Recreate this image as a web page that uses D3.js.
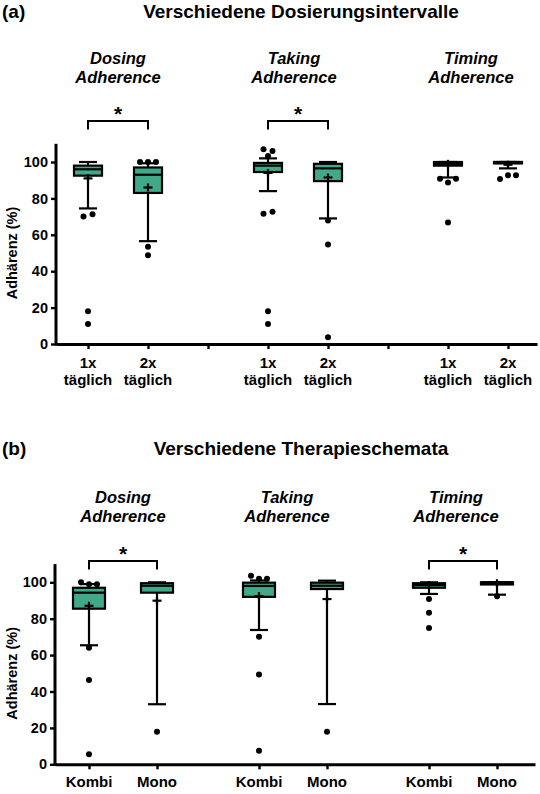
<!DOCTYPE html>
<html><head><meta charset="utf-8">
<script src="https://cdn.jsdelivr.net/npm/d3@7"></script>
<style>body{margin:0;background:#fff}svg{display:block}</style>
</head><body>
<script>
// ---------- DATA ----------
const measures = ["Dosing", "Taking", "Timing"];
const yTicks = [0, 20, 40, 60, 80, 100];

// Panel (a) – Verschiedene Dosierungsintervalle
const categoriesA = [["1x", "täglich"], ["2x", "täglich"]];
// each box: [lowerWhisker, q1, median, q3, upperWhisker, mean]
const dosingA = [[74.5, 92.5, 96, 98, 100, 91], [56.5, 83, 93, 97, 99.3, 86]];
const takingA = [[84, 94.5, 98, 99.5, 102, 94], [69, 89.5, 96.5, 99, 100, 91.5]];
const timingA = [[91.5, 98, 99, 100, 100, 99], [96.5, 99.2, 100, 100, 100, 98.5]];
const dosingOutA = [[70, 71.3, 18, 11], [100, 100, 100, 53.5, 48.7]];
const takingOutA = [[107, 106, 103.3, 71.6, 72.7, 18, 11], [67.8, 54.7, 3.7]];
const timingOutA = [[90.8, 88.8, 90.8, 66.7], [90.7, 92.7, 92.7]];
const significantA = ["Dosing", "Taking"];

// Panel (b) – Verschiedene Therapieschemata
const categoriesB = [["Kombi"], ["Mono"]];
const dosingB = [[65.4, 85.5, 94.3, 97, 99, 87.1], [33, 94.3, 98.1, 99.5, 100, 89.9]];
const takingB = [[73.8, 92, 98, 99.8, 101, 92.4], [33.1, 96.3, 98.1, 99.8, 100.9, 90.8]];
const timingB = [[93.6, 97, 98.5, 99.5, 100, 98.5], [93.2, 98.8, 100, 100, 100, 99.5]];
const dosingOutB = [[100, 98.9, 98.9, 64, 46.3, 5.5], [17.9]];
const takingOutB = [[103.6, 102, 102, 70.1, 49.4, 7.5], [17.9]];
const timingOutB = [[90.8, 83.3, 74.9], [92.3]];
const significantB = ["Dosing", "Timing"];

// ---------- DRAWING ----------
const W = 540, H = 794;
const FONT = "'Liberation Sans', Arial, Helvetica, sans-serif";
const FILL = "#3fa98a";
const svg = d3.select("body").append("svg").attr("width", W).attr("height", H)
  .style("font-family", FONT);

function drawPanel(p) {
  const g = svg.append("g");
  const y = d3.scaleLinear().domain([0, 110]).range([p.y0, p.y0 - 110 * 1.82]);
  const x = d3.scaleLinear().domain(p.xDomain).range([p.axisLeft, p.axisRight]);

  // titles
  g.append("text").attr("x", 2).attr("y", p.titleY).text(p.tag)
    .attr("font-size", 19).attr("font-weight", "bold");
  g.append("text").attr("x", 301).attr("y", p.titleY).text(p.title)
    .attr("text-anchor", "middle").attr("font-size", 19).attr("font-weight", "bold");
  measures.forEach((m, i) => {
    const t = g.append("text").attr("x", p.subX[i]).attr("text-anchor", "middle")
      .attr("font-size", 16.5).attr("font-weight", "bold").attr("font-style", "italic");
    t.append("tspan").attr("x", p.subX[i]).attr("y", p.subY).text(m);
    t.append("tspan").attr("x", p.subX[i]).attr("y", p.subY + 19).text("Adherence");
  });

  // axes
  const yAxis = d3.axisLeft(y).tickValues(yTicks).tickSize(5).tickSizeOuter(0).tickPadding(3);
  const ya = g.append("g").attr("transform", `translate(${p.axisLeft},0)`).call(yAxis);
  const tickSlots = p.slots.concat(p.gapSlots);
  const xAxis = d3.axisBottom(x).tickValues(tickSlots).tickSize(5).tickSizeOuter(0).tickFormat("");
  const xa = g.append("g").attr("transform", `translate(0,${p.y0})`).call(xAxis);
  [ya, xa].forEach(a => {
    a.select(".domain").attr("stroke-width", 3).attr("stroke", "#000");
    a.selectAll(".tick line").attr("stroke-width", 2.4).attr("stroke", "#000");
  });
  ya.selectAll(".tick text").attr("font-size", 14.5).attr("font-weight", "bold")
    .attr("font-family", FONT).attr("fill", "#000");
  ya.select(".domain").attr("d", `M0,${y(0) + 1.5}V${y(110)}`);

  // y label
  g.append("text").attr("transform", `translate(${p.yLabelX},${y(50)}) rotate(-90)`)
    .attr("text-anchor", "middle").attr("font-size", 14.5).attr("font-weight", "bold")
    .text("Adhärenz (%)");

  // x labels
  p.boxes.forEach((b, i) => {
    const cat = p.categories[i % 2];
    cat.forEach((line, j) => {
      g.append("text").attr("x", x(p.slots[i])).attr("y", p.xLabelY + j * 17)
        .attr("text-anchor", "middle").attr("font-size", 15).attr("font-weight", "bold")
        .text(line);
    });
  });

  // boxes
  const bw = p.boxW, cw = 18;
  p.boxes.forEach((s, i) => {
    const cx = x(p.slots[i]);
    const [lo, q1, med, q3, hi, mean] = s;
    const bg = g.append("g").attr("stroke", "#000").attr("stroke-width", 2.2).attr("fill", "none");
    bg.append("line").attr("x1", cx).attr("x2", cx).attr("y1", y(q3)).attr("y2", y(hi));
    bg.append("line").attr("x1", cx).attr("x2", cx).attr("y1", y(q1)).attr("y2", y(lo));
    bg.append("line").attr("x1", cx - cw / 2).attr("x2", cx + cw / 2).attr("y1", y(hi)).attr("y2", y(hi));
    bg.append("line").attr("x1", cx - cw / 2).attr("x2", cx + cw / 2).attr("y1", y(lo)).attr("y2", y(lo));
    bg.append("rect").attr("x", cx - bw / 2).attr("width", bw).attr("y", y(q3))
      .attr("height", Math.max(0, y(q1) - y(q3))).attr("fill", FILL);
    bg.append("line").attr("x1", cx - bw / 2).attr("x2", cx + bw / 2).attr("y1", y(med)).attr("y2", y(med));
    // mean "+"
    bg.append("line").attr("x1", cx - 4.5).attr("x2", cx + 4.5).attr("y1", y(mean)).attr("y2", y(mean));
    bg.append("line").attr("x1", cx).attr("x2", cx).attr("y1", y(mean) - 4).attr("y2", y(mean) + 4);

    // outliers with dodge for near-overlapping values
    const clusters = [];
    p.outliers[i].forEach(v => {
      let c = clusters.find(cl => cl.some(u => Math.abs(y(u) - y(v)) < 4));
      if (c) c.push(v); else clusters.push([v]);
    });
    clusters.forEach(cl => {
      const n = cl.length;
      const step = n === 2 ? 9 : 8;
      cl.forEach((v, k) => {
        g.append("circle").attr("cx", cx + (k - (n - 1) / 2) * step).attr("cy", y(v))
          .attr("r", 3).attr("fill", "#000");
      });
    });
  });

  // significance brackets
  p.significant.forEach(m => {
    const mi = measures.indexOf(m);
    const x1 = x(p.slots[mi * 2]), x2 = x(p.slots[mi * 2 + 1]);
    g.append("path").attr("d", `M${x1},${p.brTop + 8.5}V${p.brTop}H${x2}V${p.brTop + 8.5}`)
      .attr("fill", "none").attr("stroke", "#000").attr("stroke-width", 2);
    g.append("text").attr("x", (x1 + x2) / 2).attr("y", p.brTop)
      .attr("text-anchor", "middle").attr("font-size", 21).attr("font-weight", "bold").text("*");
  });
}

drawPanel({
  tag: "(a)", title: "Verschiedene Dosierungsintervalle", titleY: 18,
  subX: [118, 294, 471], subY: 64,
  y0: 344, axisLeft: 56, axisRight: 537, xDomain: [-32 / 60, 7 + 29 / 60],
  slots: [0, 1, 3, 4, 6, 7], gapSlots: [2, 5],
  boxes: [...dosingA, ...takingA, ...timingA],
  outliers: [...dosingOutA, ...takingOutA, ...timingOutA],
  categories: categoriesA, boxW: 28, xLabelY: 368, yLabelX: 17,
  significant: significantA, brTop: 121
});

drawPanel({
  tag: "(b)", title: "Verschiedene Therapieschemata", titleY: 455,
  subX: [123, 287, 456], subY: 503,
  y0: 764.3, axisLeft: 55, axisRight: 535, xDomain: [-0.5, 6 + 38 / 68],
  slots: [0, 1, 2.5, 3.5, 5, 6], gapSlots: [],
  boxes: [...dosingB, ...takingB, ...timingB],
  outliers: [...dosingOutB, ...takingOutB, ...timingOutB],
  categories: categoriesB, boxW: 32, xLabelY: 787, yLabelX: 17,
  significant: significantB, brTop: 561
});
</script>
</body></html>
